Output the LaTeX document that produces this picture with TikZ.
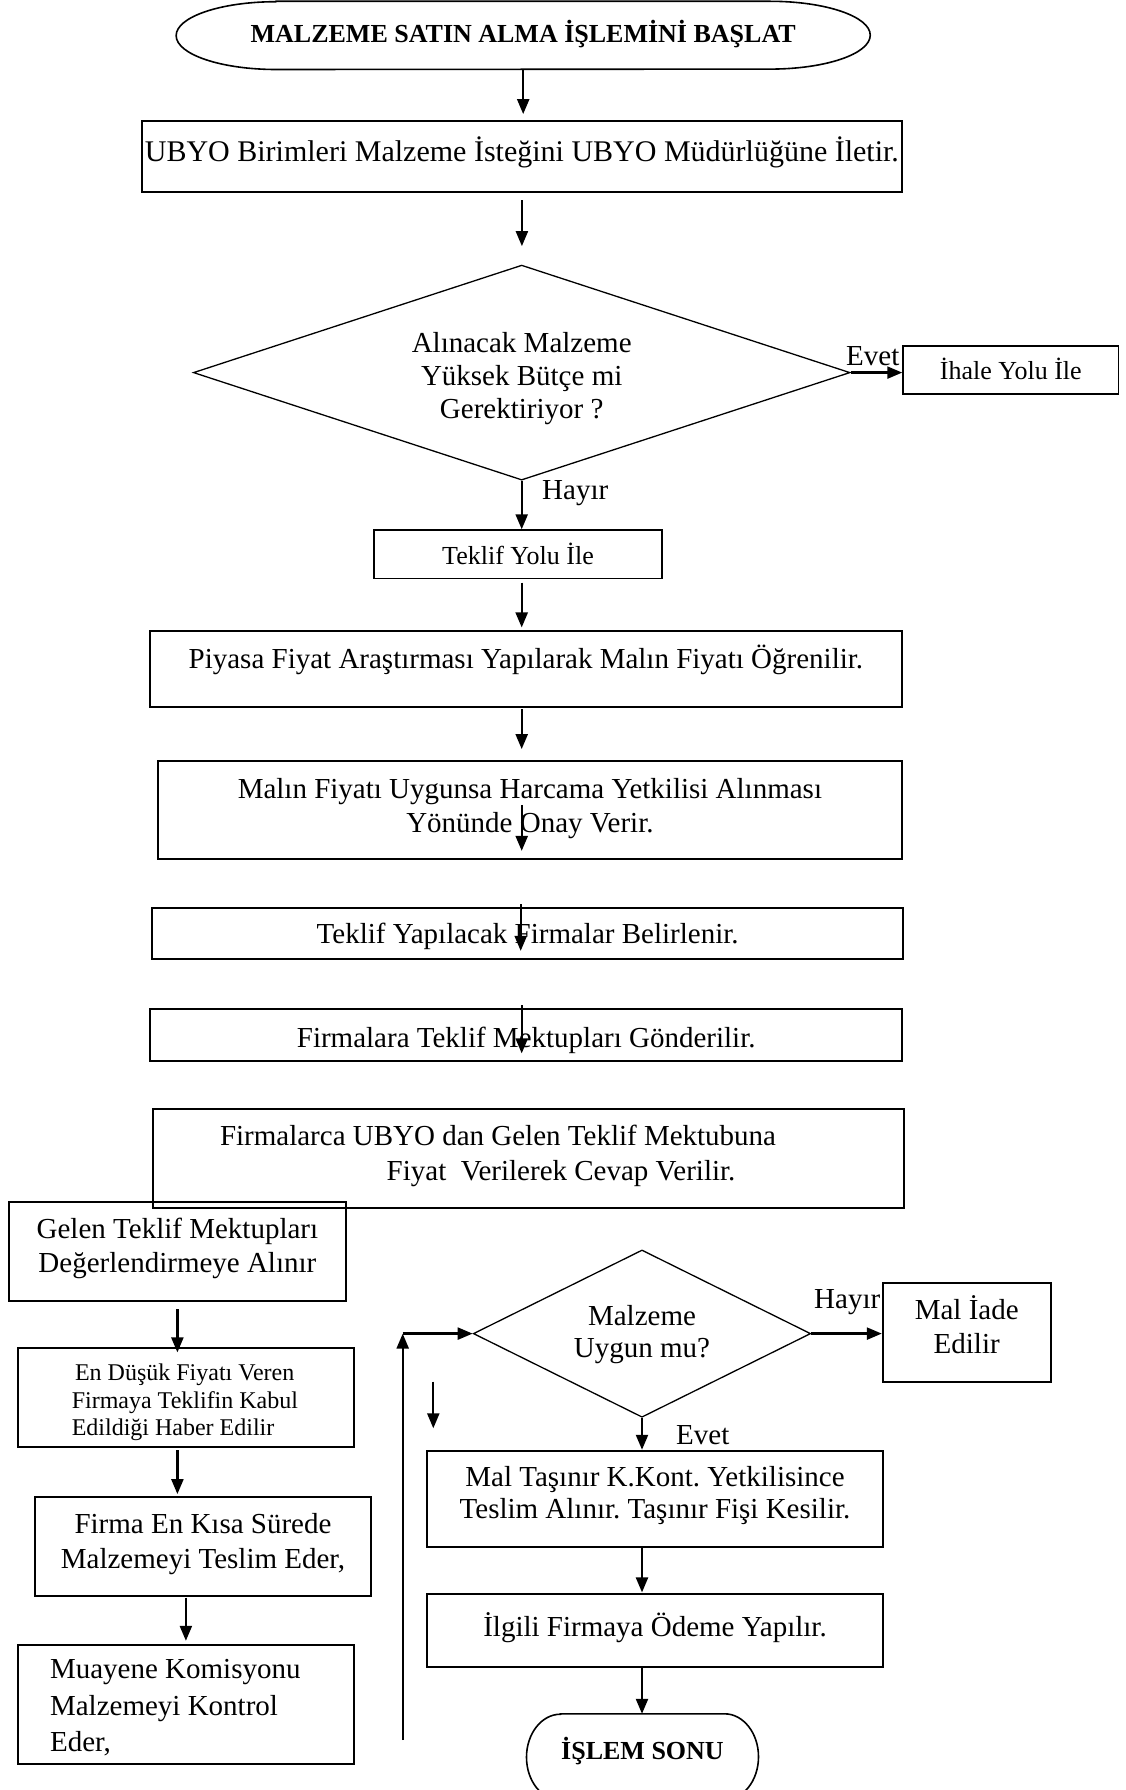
\documentclass[tikz,border=0pt]{standalone}
\usepackage{fontspec}
\setmainfont{Liberation Serif}
\usetikzlibrary{arrows.meta,shapes.geometric,calc}
\newcommand\setfs[2]{\fontsize{#1}{#2}\selectfont}
\newcommand\topst[1]{\rule{0pt}{#1}}
\newcommand\botst[1]{\rule[-#1]{0pt}{#1}}

\begin{document}
\frenchspacing
\begin{tikzpicture}[x=1pt,y=-1pt,
  box/.style={draw, line width=1.8pt, rectangle, inner sep=0pt, font=\setfs{29pt}{34pt}, align=center},
  thinbox/.style={box, line width=1.5pt, font=\setfs{26pt}{30pt}},
  leftbox/.style={box, align=flush left},
  dia/.style={draw, line width=1.3pt, diamond, inner sep=0pt, font=\setfs{29pt}{34pt}, align=center},
  term/.style={rectangle, inner sep=0pt, font=\bfseries\setfs{26pt}{30pt}},
  termline/.style={line width=1.6pt},
  arr/.style={line width=2.3pt, -{Triangle[length=15pt,width=12pt]}},
  lbl/.style={inner sep=0pt, font=\setfs{29pt}{34pt}},
]
\path[use as bounding box, fill=white] (0,0) rectangle (1126,1790);

% ---------- start terminator ----------
\node[term, minimum width=693.7pt, minimum height=67.8pt, text height=14.8pt, text depth=0pt]
  (start) at (523.2,35.4) {MALZEME SATIN ALMA İŞLEMİNİ BAŞLAT};
\draw[termline] ([xshift=100pt]start.north west) -- ([xshift=-100pt]start.north east)
  arc[start angle=90, end angle=-90, x radius=100pt, y radius=33.9pt]
  -- ([xshift=100pt]start.south west)
  arc[start angle=270, end angle=90, x radius=100pt, y radius=33.9pt] -- cycle;

% ---------- main column ----------
\node[box, font=\setfs{30pt}{34pt}, minimum width=760.6pt, minimum height=71pt, text height=11.6pt, text depth=0pt]
  (ubyo) at (521.9,156.2) {UBYO Birimleri Malzeme İsteğini UBYO Müdürlüğüne İletir.};

\node[dia, minimum width=656.7pt, minimum height=215pt, shape aspect=3.05, font=\setfs{29pt}{33.4pt}]
  (d1) at (521.7,372.6) {\topst{34pt}Alınacak Malzeme\\Yüksek Bütçe mi\\Gerektiriyor ?\botst{8.4pt}};

\node[thinbox, minimum width=215.6pt, minimum height=48pt, text height=19pt, text depth=0pt]
  (ihale) at (1010.8,370) {İhale Yolu İle};

\node[thinbox, minimum width=288pt, minimum height=48.3pt, text height=20.6pt, text depth=0pt]
  (teklifyolu) at (518,554.2) {Teklif Yolu İle};

\node[box, minimum width=752.6pt, minimum height=76.3pt, text height=0pt, text depth=1pt]
  (piyasa) at (525.9,669.2) {Piyasa Fiyat Araştırması Yapılarak Malın Fiyatı Öğrenilir.};

\node[box, minimum width=744.6pt, minimum height=98.6pt, font=\setfs{29pt}{33.3pt}]
  (malin) at (529.9,810) {\topst{30pt}Malın Fiyatı Uygunsa Harcama Yetkilisi Alınması\\Yönünde Onay Verir.\botst{19.3pt}};

\node[box, minimum width=751.4pt, minimum height=51pt, text height=19.8pt, text depth=0pt]
  (belirlenir) at (527.6,933.8) {Teklif Yapılacak Firmalar Belirlenir.};

\node[box, minimum width=752.3pt, minimum height=51.4pt, text height=24.4pt, text depth=0pt]
  (gonderilir) at (526.2,1035) {Firmalara Teklif Mektupları Gönderilir.};

\node[leftbox, text width=751.6pt, minimum height=99.3pt, font=\setfs{29pt}{35pt}]
  (firmalarca) at (528.5,1158.7) {\topst{30pt}\hspace*{67.3pt}Firmalarca UBYO dan Gelen Teklif Mektubuna\\\hspace*{234pt}Fiyat\ \ Verilerek Cevap Verilir.\botst{21.6pt}};

% ---------- left column ----------
\node[box, minimum width=336.7pt, minimum height=99.3pt, font=\setfs{29pt}{34.7pt}]
  (gelen) at (177.4,1251.4) {\topst{30pt}Gelen Teklif Mektupları\\Değerlendirmeye Alınır\botst{22.1pt}};

\node[leftbox, text width=336.3pt, minimum height=99pt, font=\setfs{24pt}{27.5pt}]
  (endusuk) at (185.9,1397.8) {\topst{30pt}\hspace*{57.3pt}En Düşük Fiyatı Veren\\\hspace*{54pt}Firmaya Teklifin Kabul\\\hspace*{54pt}Edildiği Haber Edilir\botst{9.6pt}};

\node[box, minimum width=336pt, minimum height=99pt, font=\setfs{29pt}{34.7pt}]
  (firma) at (203,1546.2) {\topst{30pt}Firma En Kısa Sürede\\Malzemeyi Teslim Eder,\botst{20.3pt}};

\node[leftbox, text width=336.3pt, minimum height=119pt, font=\setfs{29pt}{36.3pt}]
  (muayene) at (185.9,1704.8) {\topst{30pt}\hspace*{32.3pt}Muayene Komisyonu\\\hspace*{32.3pt}Malzemeyi Kontrol\\\hspace*{32.3pt}Eder,\botst{9.5pt}};

% ---------- right column ----------
\node[dia, minimum width=337.4pt, minimum height=167.3pt, shape aspect=2.02, font=\setfs{29pt}{31.6pt}]
  (d2) at (642,1333.6) {\topst{30pt}Malzeme\\Uygun mu?\botst{14.8pt}};

\node[box, minimum width=168pt, minimum height=99.6pt, font=\setfs{29pt}{34.3pt}]
  (maliade) at (966.7,1332.5) {\topst{30pt}Mal İade\\Edilir\botst{21.9pt}};

\node[box, minimum width=456.6pt, minimum height=96.3pt, font=\setfs{29pt}{32pt}]
  (maltasinir) at (655,1498.8) {\topst{30pt}Mal Taşınır K.Kont. Yetkilisince\\Teslim Alınır. Taşınır Fişi Kesilir.\botst{22.2pt}};

\node[box, minimum width=456.6pt, minimum height=72.4pt, text height=12.4pt, text depth=0pt]
  (ilgili) at (655,1630.5) {İlgili Firmaya Ödeme Yapılır.};

% ---------- end terminator ----------
\node[term, minimum width=231.6pt, minimum height=86pt, text height=5pt, text depth=0pt]
  (sonu) at (642.5,1757) {İŞLEM SONU};
\draw[termline] ([xshift=34pt]sonu.north west) -- ([xshift=-34pt]sonu.north east)
  arc[start angle=90, end angle=-90, x radius=34pt, y radius=43pt]
  -- ([xshift=34pt]sonu.south west)
  arc[start angle=270, end angle=90, x radius=34pt, y radius=43pt] -- cycle;

% ---------- branch labels ----------
\node[lbl, anchor=base west] (evetA) at (846,365) {Evet};
\node[lbl, anchor=base west] (hayirA) at (542,499.6) {Hayır};
\node[lbl, anchor=base west] (hayirB) at (814,1308) {Hayır};
\node[lbl, anchor=base west] (evetB) at (676,1444.3) {Evet};

% ---------- connectors ----------
\draw[arr, shorten >=5.7pt] (start.south) -- (start.south |- ubyo.north);
\draw[arr, shorten <=7.6pt, shorten >=18.3pt] (ubyo.south) -- (ubyo.south |- d1.north);
\draw[arr] (d1.east) -- (d1.east -| ihale.west);
\draw[arr] (d1.south) -- (d1.south |- teklifyolu.north);
\draw[arr, shorten <=3.4pt, shorten >=2.7pt] (d1.south |- teklifyolu.south) -- (d1.south |- piyasa.north);
\draw[arr, shorten <=1pt, shorten >=10.7pt] (d1.south |- piyasa.south) -- (d1.south |- malin.north);
\draw[arr] ($(d1.south |- malin.south)+(0,-55.3)$) -- ($(d1.south |- malin.south)+(0,-9.3)$);
\draw[arr] ($(d1.south |- belirlenir.north)+(-1,-3.3)$) -- ($(d1.south |- belirlenir.south)+(-1,-9.3)$);
\draw[arr] ($(d1.south |- gonderilir.north)+(0,-3.3)$) -- ($(d1.south |- gonderilir.south)+(0,-8.2)$);

\draw[arr, shorten <=7.3pt] (gelen.south) -- ($(gelen.south |- endusuk.north)+(0,5)$);
\draw[arr, shorten <=2pt, shorten >=1.7pt] (gelen.south |- endusuk.south) -- (gelen.south |- firma.north);
\draw[arr, shorten <=1pt, shorten >=3.6pt] (firma.south -| muayene.north) -- (muayene.north);

\coordinate (loopfoot) at (402.7,1740);
\coordinate (loopturn) at (loopfoot |- d2.west);
\draw[arr] (loopfoot) -- (loopturn);
\draw[arr] (loopturn) -- (d2.west);

\coordinate (strayA) at (433.3,1381.7);
\coordinate (strayB) at (433.3,1428.3);
\draw[arr] (strayA) -- (strayB);

\draw[arr] (d2.east) -- (d2.east -| maliade.west);
\draw[arr] (d2.south) -- (d2.south |- maltasinir.north);
\draw[arr, shorten >=1pt] (d2.south |- maltasinir.south) -- (d2.south |- ilgili.north);
\draw[arr] (d2.south |- ilgili.south) -- (d2.south |- sonu.north);
\end{tikzpicture}
\end{document}
